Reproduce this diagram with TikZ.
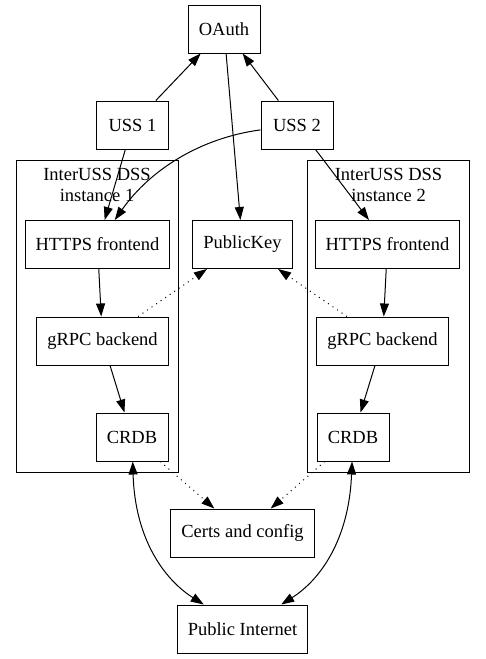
\documentclass[tikz,border=0pt]{standalone}
\usepackage{fontspec}
\setmainfont{Liberation Serif}
\usetikzlibrary{arrows.meta}

\def\bheight{48}
\def\lwidth{1}
\def\tipl{13}
\def\tipw{9}

\begin{document}
\begin{tikzpicture}[x=1pt,y=-1pt,font=\fontsize{18.5}{21}\selectfont,line width=\lwidth pt,
	mybox/.style={rectangle,draw,inner xsep=10.5pt,inner ysep=0pt,minimum width=72pt,minimum height=\bheight pt},
	clusterbox/.style={rectangle,draw,inner sep=0pt,minimum width=162pt,minimum height=312pt},
	clusterlbl/.style={align=center,inner sep=0pt},
	myedge/.style={-{Triangle[length=\tipl pt,width=\tipw pt]}},
	bothedge/.style={{Triangle[length=\tipl pt,width=\tipw pt]}-{Triangle[length=\tipl pt,width=\tipw pt]}},
	dotedge/.style={myedge,dash pattern=on 1pt off 4.5pt}]
	\useasboundingbox (0,0) rectangle (485,659);
	\node[clusterbox] (dss1) at (97,316) {};
	\node[clusterbox] (dss2) at (388.5,316) {};
	\node[clusterlbl] (lbl1) at (97,184.5) {InterUSS DSS\\instance 1};
	\node[clusterlbl] (lbl2) at (388.5,184.5) {InterUSS DSS\\instance 2};
	\node[mybox] (oauth) at (224,29) {OAuth};
	\node[mybox] (uss1) at (132.5,125) {USS 1};
	\node[mybox] (uss2) at (297,125) {USS 2};
	\node[mybox] (https1) at (97.5,244.5) {HTTPS frontend};
	\node[mybox] (pubkey) at (242.5,244.5) {PublicKey};
	\node[mybox] (https2) at (387.5,244.5) {HTTPS frontend};
	\node[mybox] (grpc1) at (102.5,341) {gRPC backend};
	\node[mybox] (grpc2) at (382.5,341) {gRPC backend};
	\node[mybox] (crdb1) at (132,437) {CRDB};
	\node[mybox] (crdb2) at (353,437) {CRDB};
	\node[mybox] (certs) at (242.5,533) {Certs and config};
	\node[mybox] (internet) at (242.5,629) {Public Internet};
	\draw[myedge] (uss1) -- (oauth);
	\draw[myedge] (uss2) -- (oauth);
	\draw[myedge] (oauth) -- (pubkey);
	\draw[myedge] (uss1) -- (https1);
	\draw[myedge] (uss2) .. controls (200,138) and (150,170) .. (https1);
	\draw[myedge] (uss2) -- (https2);
	\draw[myedge] (https1) -- (grpc1);
	\draw[myedge] (https2) -- (grpc2);
	\draw[myedge] (grpc1) -- (crdb1);
	\draw[myedge] (grpc2) -- (crdb2);
	\draw[dotedge] (grpc1) -- (pubkey);
	\draw[dotedge] (grpc2) -- (pubkey);
	\draw[dotedge] (crdb1) -- (certs);
	\draw[dotedge] (crdb2) -- (certs);
	\draw[bothedge] (crdb1) .. controls (135,540) and (165,580) .. (internet);
	\draw[bothedge] (crdb2) .. controls (349,540) and (320,580) .. (internet);
\end{tikzpicture}
\end{document}
